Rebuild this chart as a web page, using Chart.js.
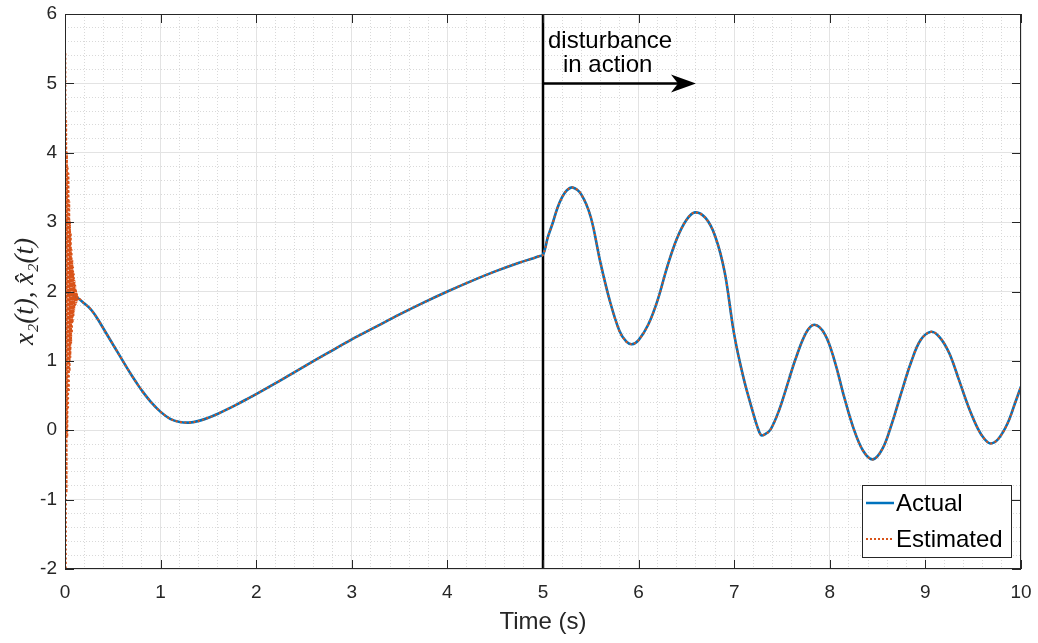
<!DOCTYPE html>
<html>
<head>
<meta charset="utf-8">
<script src="https://cdn.jsdelivr.net/npm/chart.js@4.4.0/dist/chart.umd.min.js"></script>
<style>
  body { margin: 0; background: #fff; }
  canvas { display: block; }
</style>
</head>
<body>
<canvas id="stateChart" width="1038" height="643"></canvas>
<script>
// values
const timeActual = [0, 0.05, 0.1, 0.14, 0.2, 0.25, 0.3, 0.35, 0.4, 0.45, 0.5, 0.55, 0.6, 0.65, 0.7, 0.75, 0.8, 0.9, 1.0, 1.1, 1.2, 1.3, 1.4, 1.5, 1.6, 1.7, 1.8, 1.9, 2.0,
  2.25, 2.5, 2.75, 3.0, 3.25, 3.5, 3.75, 4.0, 4.25, 4.5, 4.75, 4.9, 4.95, 5.0,
  5.05, 5.1, 5.15, 5.2, 5.25, 5.31, 5.4, 5.5, 5.6, 5.7, 5.8, 5.87, 5.93, 6.0, 6.1, 6.2, 6.3, 6.4, 6.5, 6.59, 6.7, 6.8, 6.9,
  7.0, 7.1, 7.2, 7.24, 7.28, 7.32, 7.38, 7.47, 7.57, 7.64, 7.75, 7.84, 7.95, 8.05, 8.15, 8.25, 8.35, 8.45, 8.55, 8.65, 8.75, 8.85, 8.95,
  9.06, 9.15, 9.25, 9.35, 9.45, 9.55, 9.62, 9.68, 9.76, 9.86, 9.94, 10.0];
const actualValues = [2.0, 1.97, 1.93, 1.90, 1.83, 1.77, 1.69, 1.585, 1.47, 1.355, 1.24, 1.125, 1.01, 0.895, 0.785, 0.68, 0.58, 0.405, 0.265, 0.165, 0.12, 0.11,
  0.135, 0.18, 0.238, 0.304, 0.374, 0.447, 0.522,
  0.717, 0.917, 1.115, 1.31, 1.49, 1.67, 1.84, 2.00, 2.15, 2.29, 2.415, 2.48, 2.505, 2.53,
  2.78, 2.98, 3.20, 3.36, 3.46, 3.50, 3.40, 3.07, 2.42, 1.86, 1.43, 1.28, 1.24, 1.30, 1.52, 1.88, 2.36, 2.76, 3.03, 3.14, 3.06, 2.80, 2.28,
  1.38, 0.74, 0.24, 0.06, -0.07, -0.06, 0.01, 0.29, 0.72, 1.02, 1.40, 1.52, 1.38, 1.00, 0.48, 0.02, -0.30, -0.42, -0.27, 0.10, 0.55, 0.98, 1.30,
  1.42, 1.34, 1.11, 0.73, 0.34, 0.02, -0.13, -0.19, -0.13, 0.10, 0.40, 0.63];

// estimator transient at start (after that it sits on the actual curve)
const timeEstStart = [0, 0.004, 0.008, 0.012, 0.016, 0.02, 0.024, 0.028, 0.032, 0.036, 0.04, 0.044, 0.048, 0.052, 0.056, 0.06,
  0.064, 0.068, 0.072, 0.076, 0.08, 0.084, 0.088, 0.092, 0.096, 0.1, 0.104, 0.108, 0.112, 0.116, 0.12, 0.124, 0.128, 0.132, 0.136, 0.14];
const estStartValues = [1.9, 5.4, -2.3, 4.45, -0.9, 4.0, -0.1, 3.8, 0.3, 3.7, 0.55, 3.3, 0.85, 3.0, 1.05, 2.85,
  1.25, 2.6, 1.4, 2.45, 1.55, 2.35, 1.65, 2.25, 1.72, 2.15, 1.78, 2.08, 1.82, 2.02, 1.85, 1.97, 1.87, 1.94, 1.89, 1.91];

const disturbanceTime = 5;
const arrowEnd = 6.6;
const arrowLevel = 5;
const xRange = [0, 10];
const yRange = [-2, 6];

const actualPts = timeActual.map((t, i) => ({ x: t, y: actualValues[i] }));
const estPts = timeEstStart.map((t, i) => ({ x: t, y: estStartValues[i] }))
  .concat(actualPts.filter(p => p.x > 0.14));

const BLUE = '#0072BD';
const ORANGE = '#D95319';
const AXIS = '#262626';
const SANS = '"Liberation Sans", Arial, Helvetica, sans-serif';

const isMajor = v => Math.abs(v - Math.round(v)) < 1e-6;

const gridOpts = {
  drawTicks: false,
  color: c => (c.tick && isMajor(c.tick.value)) ? '#e3e3e3' : '#d9d9d9',
  lineWidth: 1
};
const borderOpts = {
  display: false,
  dash: c => (c.tick && !isMajor(c.tick.value)) ? [1, 2] : []
};

const extras = {
  id: 'extras',
  afterDatasetsDraw(chart) {
    const { ctx, chartArea: a, scales: { x, y } } = chart;
    ctx.save();
    // box + inward ticks
    ctx.strokeStyle = AXIS;
    ctx.lineWidth = 1;
    ctx.strokeRect(a.left + 0.5, a.top + 0.5, a.right - a.left - 1, a.bottom - a.top - 1);
    ctx.beginPath();
    for (let v = xRange[0]; v <= xRange[1]; v++) {
      const px = Math.round(x.getPixelForValue(v)) + 0.5;
      ctx.moveTo(px, a.bottom); ctx.lineTo(px, a.bottom - 9);
      ctx.moveTo(px, a.top); ctx.lineTo(px, a.top + 9);
    }
    for (let v = yRange[0]; v <= yRange[1]; v++) {
      const py = Math.round(y.getPixelForValue(v)) + 0.5;
      ctx.moveTo(a.left, py); ctx.lineTo(a.left + 9, py);
      ctx.moveTo(a.right, py); ctx.lineTo(a.right - 9, py);
    }
    ctx.stroke();

    // disturbance arrow
    const x0 = x.getPixelForValue(disturbanceTime);
    const x1 = x.getPixelForValue(arrowEnd);
    const ya = y.getPixelForValue(arrowLevel);
    ctx.strokeStyle = '#000';
    ctx.fillStyle = '#000';
    ctx.lineWidth = 2.5;
    ctx.beginPath();
    ctx.moveTo(x0, ya); ctx.lineTo(x1 - 14, ya);
    ctx.stroke();
    ctx.beginPath();
    ctx.moveTo(x1, ya);
    ctx.lineTo(x1 - 25, ya - 9);
    ctx.lineTo(x1 - 18, ya);
    ctx.lineTo(x1 - 25, ya + 9);
    ctx.closePath();
    ctx.fill();

    ctx.font = '24px ' + SANS;
    ctx.textAlign = 'left';
    ctx.textBaseline = 'alphabetic';
    ctx.fillText('disturbance', x0 + 5, ya - 35);
    ctx.fillText('in action', x0 + 20, ya - 11);

    // legend
    const lw = 149, lh = 72;
    const lx = a.right - 10 - lw, ly = a.bottom - 12 - lh;
    ctx.fillStyle = '#fff';
    ctx.fillRect(lx, ly, lw, lh);
    ctx.strokeStyle = AXIS;
    ctx.lineWidth = 1;
    ctx.strokeRect(lx + 0.5, ly + 0.5, lw, lh);
    const rows = [
      { label: 'Actual', color: BLUE, dash: [], w: 2.5, yy: ly + 18 },
      { label: 'Estimated', color: ORANGE, dash: [2, 2], w: 2, yy: ly + 54 }
    ];
    rows.forEach(r => {
      ctx.strokeStyle = r.color;
      ctx.lineWidth = r.w;
      ctx.setLineDash(r.dash);
      ctx.beginPath();
      ctx.moveTo(lx + 4, r.yy); ctx.lineTo(lx + 32, r.yy);
      ctx.stroke();
      ctx.setLineDash([]);
      ctx.fillStyle = '#000';
      ctx.textBaseline = 'middle';
      ctx.fillText(r.label, lx + 34, r.yy + 1);
    });
    ctx.restore();
  }
};

new Chart(document.getElementById('stateChart'), {
  type: 'line',
  data: {
    datasets: [
      {
        label: 'Estimated',
        data: estPts,
        borderColor: ORANGE,
        borderWidth: 2,
        borderDash: [2, 2.5],
        borderCapStyle: 'butt',
        pointRadius: 0,
        tension: 0.35
      },
      {
        label: 'Actual',
        data: actualPts,
        borderColor: BLUE,
        borderWidth: 2.6,
        pointRadius: 0,
        tension: 0.35
      },
      {
        label: 'disturbance',
        data: [{ x: disturbanceTime, y: yRange[0] }, { x: disturbanceTime, y: yRange[1] }],
        borderColor: '#000',
        borderWidth: 2.5,
        pointRadius: 0
      }
    ]
  },
  options: {
    responsive: false,
    animation: false,
    devicePixelRatio: 1,
    layout: { padding: { top: 14, right: 17, left: 0, bottom: 0 } },
    plugins: { legend: { display: false }, tooltip: { enabled: false } },
    scales: {
      x: {
        type: 'linear',
        min: xRange[0], max: xRange[1],
        afterFit: s => { s.height = 74; s.paddingLeft = 0; s.paddingRight = 0; },
        grid: gridOpts,
        border: borderOpts,
        ticks: {
          stepSize: 0.2, autoSkip: false, maxTicksLimit: 200, maxRotation: 0,
          padding: 12, color: AXIS, font: { size: 19, family: SANS },
          callback: v => isMajor(v) ? String(Math.round(v)) : ''
        },
        title: { display: true, text: 'Time (s)', color: AXIS, font: { size: 24, family: SANS }, padding: { top: 0, bottom: 6 } }
      },
      y: {
        type: 'linear',
        min: yRange[0], max: yRange[1],
        afterFit: s => { s.width = 65; s.paddingTop = 0; s.paddingBottom = 0; },
        grid: gridOpts,
        border: borderOpts,
        ticks: {
          stepSize: 0.2, autoSkip: false, maxTicksLimit: 200,
          padding: 8, color: AXIS, font: { size: 19, family: SANS },
          callback: v => isMajor(v) ? String(Math.round(v)) : ''
        },
        title: { display: true, text: 'x\u2082(t), x\u0302\u2082(t)', color: AXIS, font: { size: 27, family: '"Liberation Serif", "Times New Roman", serif', style: 'italic' }, padding: { top: 10, bottom: 0 } }
      }
    }
  },
  plugins: [extras]
});
</script>
</body>
</html>
